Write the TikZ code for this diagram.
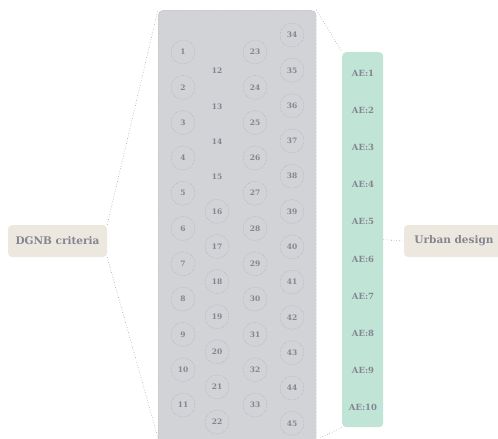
\documentclass[tikz,border=0pt]{standalone}
\usepackage{fontspec}
\setmainfont{DejaVu Serif}
\begin{document}
\begin{tikzpicture}[x=1pt,y=-1pt,
  txt/.style={text=textgray,font=\bfseries},
  link/.style={draw=linegray,dotted,line width=0.6pt},
  numc/.style={circle,draw=circgray,densely dotted,line width=0.5pt,minimum size=24pt,inner sep=0pt,txt,font=\bfseries\fontsize{7.5}{8}\selectfont},
  numn/.style={circle,minimum size=24pt,inner sep=0pt,txt,font=\bfseries\fontsize{7.5}{8}\selectfont},
  aelabel/.style={txt,font=\bfseries\fontsize{8.5}{9}\selectfont},
  labelbox/.style={rounded corners=4pt,fill=boxbeige,minimum height=32pt,inner sep=0pt,txt,font=\bfseries\fontsize{10.5}{12}\selectfont}]
\definecolor{textgray}{HTML}{85858F}
\definecolor{linegray}{HTML}{9E9EA5}
\definecolor{circgray}{HTML}{C4A3AB}
\definecolor{panelgray}{HTML}{D2D3D7}
\definecolor{panelgreen}{HTML}{C0E4D6}
\definecolor{boxbeige}{HTML}{ECE8E0}
\useasboundingbox (0,0) rectangle (498,439);
% panels
\node[draw=linegray,densely dotted,fill=panelgray,rounded corners=5pt,minimum width=158pt,minimum height=440pt,inner sep=0pt,anchor=north west] (gray) at (158,10) {};
\node[fill=panelgreen,rounded corners=4pt,minimum width=41pt,minimum height=375pt,inner sep=0pt,anchor=north west] (ae) at (342,52) {};
% side boxes
\node[labelbox,minimum width=99pt] (dgnb) at (57.5,241) {DGNB criteria};
\node[labelbox,minimum width=100pt] (urban) at (454,241) {Urban design};
% connectors
\coordinate (gtl) at (158,10);
\coordinate (gbl) at (158,438);
\coordinate (gbr) at (320,438);
\draw[link] (dgnb.north east) -- (gtl);
\draw[link] (dgnb.south east) -- (gbl);
\draw[link] (gray.north east) -- (ae.north west);
\draw[link] (gbr) -- (ae.south west);
\draw[link] (ae.east) -- (urban.west);
% column 1 and 3
\foreach \i in {1,...,11}{
  \pgfmathsetmacro{\yy}{52+(\i-1)*35.3}
  \node[numc] (n\i) at (183,\yy) {\i};
  \pgfmathtruncatemacro{\j}{\i+22}
  \node[numc] (n\j) at (255,\yy) {\j};
}
% column 2
\foreach \i in {12,...,15}{
  \pgfmathsetmacro{\yy}{71+(\i-12)*35.3}
  \node[numn] (n\i) at (217,\yy) {\i};
}
\foreach \i in {16,...,22}{
  \pgfmathsetmacro{\yy}{71+(\i-12)*35.1}
  \node[numc] (n\i) at (217,\yy) {\i};
}
% column 4
\foreach \i in {34,...,45}{
  \pgfmathsetmacro{\yy}{35+(\i-34)*35.3}
  \node[numc] (n\i) at (292,\yy) {\i};
}
% AE labels
\foreach \i in {1,...,10}{
  \pgfmathsetmacro{\yy}{73+(\i-1)*37.2}
  \node[aelabel] (ae\i) at (363,\yy) {AE:\i};
}
\end{tikzpicture}
\end{document}
